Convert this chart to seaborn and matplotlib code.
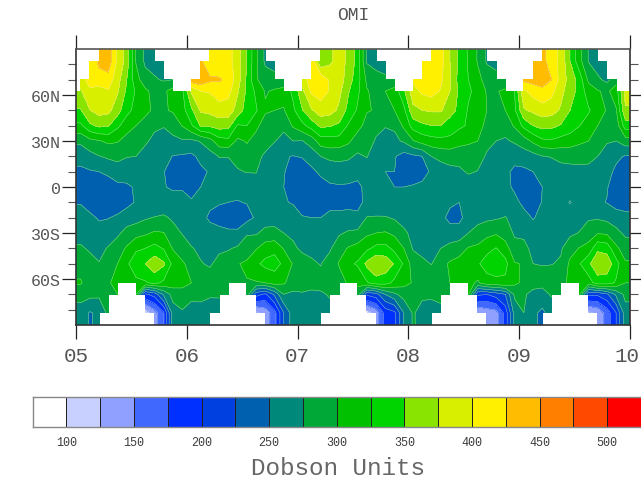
import matplotlib
matplotlib.use("Agg")
import matplotlib.pyplot as plt
from matplotlib.transforms import ScaledTranslation
import numpy as np
import seaborn as sns

N = float("nan")

# latitude rows of each monthly column, north to south
lats = [82, 70, 62.5, 50, 40, 30, 20, 10, 0, -10, -20, -30, -40, -50, -62.5, -70, -82]

ozone_05 = [
    [N, 385, 372, 348, 320, 280, 259, 245, 240, 249, 256, 266, 278, 292, 302, 286, 262],
    [400, 412, 395, 374, 345, 293, 266, 248, 235, 242, 254, 263, 272, 283, 290, 282, 248],
    [432, 412, 390, 385, 355, 298, 274, 250, 232, 234, 248, 257, 268, 276, 283, 280, 255],
    [440, 415, 398, 382, 352, 305, 279, 256, 236, 233, 249, 262, 277, 292, 299, 288, 282],
    [395, 385, 378, 360, 330, 302, 279, 268, 242, 236, 254, 270, 289, 300, 303, 300, N],
    [365, 350, 345, 332, 312, 290, 276, 262, 246, 243, 262, 284, 303, 320, 315, N, N],
    [298, 310, 322, 318, 300, 286, 275, 262, 253, 252, 265, 291, 320, 343, 318, 300, N],
    [270, 285, 305, 306, 291, 279, 265, 258, 257, 256, 272, 296, 325, 350, 322, 195, 110],
    [265, 278, 292, 296, 280, 268, 261, 256, 255, 258, 276, 303, 334, 366, 332, 210, 138],
    [260, 272, 295, 297, 276, 268, 258, 251, 252, 262, 278, 301, 323, 354, 320, 255, 172],
    [N, 275, 310, 303, 283, 270, 249, 236, 245, 265, 272, 282, 298, 318, 312, 285, 262],
    [N, N, 320, 315, 301, 272, 247, 233, 246, 264, 268, 274, 285, 304, 308, 290, 272],
]
ozone_06 = [
    [N, 440, 378, 345, 322, 270, 245, 236, 243, 252, 262, 268, 276, 290, 300, 283, 262],
    [430, 445, 400, 378, 352, 277, 256, 245, 250, 256, 259, 266, 272, 276, 291, 280, 268],
    [405, 430, 402, 382, 354, 290, 265, 252, 256, 256, 245, 262, 270, 273, 283, 278, 262],
    [405, 428, 412, 390, 360, 315, 276, 260, 252, 252, 240, 258, 272, 280, 289, 280, 255],
    [410, 418, 408, 388, 358, 318, 276, 262, 254, 250, 233, 256, 273, 287, 290, 275, N],
    [385, 388, 378, 365, 322, 295, 282, 273, 256, 249, 232, 256, 278, 299, 293, N, N],
    [350, 345, 345, 338, 325, 302, 290, 276, 262, 251, 242, 272, 290, 303, 299, 290, N],
    [305, 303, 320, 328, 305, 292, 280, 276, 265, 258, 253, 272, 298, 320, 298, 210, 120],
    [270, 288, 298, 303, 290, 282, 272, 263, 258, 257, 262, 283, 312, 332, 300, 195, 135],
    [262, 285, 303, 300, 285, 276, 262, 252, 252, 258, 265, 282, 318, 335, 310, 230, 165],
    [N, 280, 310, 298, 280, 268, 252, 252, 250, 252, 260, 275, 298, 320, 303, 275, 225],
    [N, N, 330, 320, 303, 275, 249, 238, 238, 248, 262, 272, 278, 298, 288, 270, 263],
]
ozone_07 = [
    [N, 385, 368, 348, 318, 274, 252, 234, 232, 236, 252, 266, 272, 282, 288, 272, 262],
    [420, 415, 405, 372, 336, 285, 262, 244, 228, 238, 250, 262, 270, 278, 283, 270, 262],
    [352, 420, 412, 388, 355, 313, 275, 255, 240, 242, 250, 260, 268, 274, 282, 272, 262],
    [370, 395, 398, 385, 352, 315, 282, 256, 248, 244, 255, 263, 272, 285, 287, 277, 268],
    [385, 388, 382, 370, 345, 315, 280, 266, 247, 243, 256, 272, 290, 302, 290, 275, N],
    [370, 362, 352, 342, 322, 305, 278, 265, 246, 243, 258, 278, 302, 320, 303, N, N],
    [340, 335, 330, 322, 310, 285, 272, 257, 245, 241, 257, 280, 310, 328, 305, 290, N],
    [272, 295, 302, 302, 290, 283, 276, 266, 256, 258, 276, 295, 320, 356, 322, 205, 112],
    [265, 285, 292, 298, 280, 273, 262, 255, 254, 258, 277, 300, 332, 372, 338, 215, 135],
    [262, 280, 300, 298, 276, 268, 257, 250, 252, 256, 277, 302, 334, 365, 335, 250, 185],
    [N, 280, 310, 300, 278, 270, 252, 250, 250, 255, 272, 295, 318, 348, 318, 270, 195],
    [N, N, 345, 318, 305, 278, 240, 232, 250, 258, 265, 280, 300, 322, 308, 285, 250],
]
ozone_08 = [
    [N, 405, 390, 368, 335, 298, 245, 238, 252, 258, 264, 268, 273, 288, 298, 290, 278],
    [425, 420, 405, 375, 345, 310, 250, 240, 256, 260, 264, 266, 268, 280, 285, 280, 265],
    [420, 412, 410, 378, 350, 315, 275, 254, 258, 260, 263, 266, 270, 274, 290, 280, 262],
    [410, 405, 398, 378, 350, 318, 282, 262, 258, 258, 255, 265, 275, 292, 298, 282, 268],
    [375, 378, 375, 358, 340, 317, 285, 268, 259, 253, 245, 258, 284, 303, 300, 290, N],
    [345, 340, 345, 345, 330, 308, 285, 270, 260, 250, 243, 262, 288, 310, 305, N, N],
    [322, 325, 330, 322, 322, 303, 290, 278, 260, 256, 262, 275, 302, 318, 308, 300, N],
    [298, 308, 315, 325, 318, 300, 285, 274, 262, 259, 266, 285, 305, 322, 296, 205, 125],
    [272, 290, 298, 300, 288, 281, 272, 263, 260, 258, 270, 292, 318, 335, 315, 200, 135],
    [265, 285, 298, 295, 285, 275, 266, 258, 258, 262, 272, 297, 326, 340, 318, 212, 140],
    [N, 280, 305, 300, 285, 272, 260, 255, 258, 264, 276, 287, 312, 332, 320, 225, 185],
    [N, N, 325, 320, 303, 278, 258, 245, 245, 258, 268, 272, 282, 302, 305, 280, 260],
]
ozone_09 = [
    [N, 430, 395, 372, 332, 288, 262, 245, 244, 243, 260, 270, 282, 298, 295, 278, 275],
    [440, 435, 410, 380, 350, 305, 266, 250, 238, 232, 248, 262, 268, 275, 284, 268, 255],
    [435, 435, 420, 388, 358, 320, 274, 262, 250, 252, 258, 265, 270, 274, 283, 265, 245],
    [410, 425, 408, 385, 356, 322, 276, 266, 255, 255, 258, 263, 268, 274, 290, 278, 260],
    [395, 390, 382, 372, 348, 316, 280, 268, 256, 256, 258, 265, 272, 278, 297, 292, N],
    [350, 365, 362, 350, 338, 312, 283, 267, 258, 249, 258, 270, 290, 305, 302, N, N],
    [310, 340, 342, 338, 326, 305, 283, 268, 258, 256, 264, 276, 301, 323, 308, 305, N],
    [274, 295, 312, 328, 314, 300, 282, 268, 258, 256, 272, 288, 308, 345, 312, 205, 120],
    [262, 280, 302, 312, 300, 285, 275, 268, 258, 254, 272, 298, 345, 368, 338, 205, 130],
    [255, 268, 295, 298, 287, 277, 265, 258, 252, 249, 268, 296, 340, 366, 336, 220, 160],
    [N, 290, 312, 298, 286, 275, 255, 245, 235, 240, 262, 282, 305, 335, 322, 255, 200],
    [N, N, 385, 372, 338, 288, 248, 238, 230, 238, 258, 270, 288, 303, 300, 282, 265],
]

year_labels = ["05", "06", "07", "08", "09", "10"]
lat_ticks = [60, 30, 0, -30, -60]
lat_labels = ["60N", "30N", "0", "30S", "60S"]
levels = [100, 125, 150, 175, 200, 225, 250, 275, 300, 325, 350, 375, 400, 425, 450, 475, 500]
level_colors = ["#ffffff", "#c8d0ff", "#90a0ff", "#4068ff", "#0030ff", "#0040e0", "#0060b0",
                "#00897b", "#00a838", "#00c000", "#00d400", "#88e400", "#d8f000", "#fff000",
                "#ffbc00", "#ff8000", "#ff4800", "#ff0000"]

# months of the year (0 = first) with no retrieval, per latitude row
no_data = {90: [9, 10, 11, 0, 1], 82: [10, 11, 0], 70: [11],
           -70: [5], -82: [4, 5, 6], -90: [3, 4, 5, 6, 7]}

GRAY = "#555555"
plt.rcParams["contour.corner_mask"] = False
sns.set_style("ticks")
plt.rcParams["font.family"] = ["Liberation Mono", "DejaVu Sans Mono"]

# build the grid, one extra column/row past each edge so the fill reaches the frame
grid = np.array(ozone_05 + ozone_06 + ozone_07 + ozone_08 + ozone_09, dtype=float).T
grid = np.hstack([grid[:, :1], grid, grid[:, -1:]])
grid = np.vstack([grid[:1], grid, grid[-1:]])
lat_axis = np.array([90] + lats + [-90], dtype=float)
month_axis = np.arange(-1, 61) + 0.5
for lat, months in no_data.items():
    row = np.where(lat_axis == lat)[0][0]
    col_months = np.arange(-1, 61) % 12
    grid[row, np.isin(col_months, months)] = np.nan
grid = np.ma.masked_invalid(grid)

fig = plt.figure(figsize=(6.41, 4.85), dpi=100)
W, H = 641.0, 485.0
ax = fig.add_axes([76 / W, 1 - 326 / H, 554 / W, 276 / H])

ax.contourf(month_axis, lat_axis, grid, levels=levels, colors=level_colors, extend="both")
ax.contour(month_axis, lat_axis, grid, levels=levels, colors="#d8e8d8", linewidths=0.35, alpha=0.7)

ax.set_xlim(0, 60)
ax.set_ylim(-90, 90)
ax.set_xticks(np.arange(0, 61, 12))
ax.set_xticklabels(year_labels, fontsize=15, color=GRAY)
ax.set_yticks(lat_ticks)
ax.set_yticklabels(lat_labels, fontsize=12, color=GRAY)
ax.set_yticks(np.arange(-80, 81, 10), minor=True)
ax.tick_params(axis="x", which="major", top=True, direction="out", length=10, width=0.9, color="#222222", pad=5)
ax.tick_params(axis="y", which="major", right=True, direction="out", length=10, width=0.9, color="#222222", pad=1)
ax.tick_params(axis="y", which="minor", right=True, direction="out", length=5.8, width=0.8, color="#555555")
for side in ax.spines:
    ax.spines[side].set_visible(True)
    ax.spines[side].set_linewidth(1.2)
    ax.spines[side].set_color("#333333")
ax.spines["top"].set_color("#555555")

# keep the last year label inside the canvas
last_label = ax.get_xticklabels()[-1]
last_label.set_transform(last_label.get_transform() + ScaledTranslation(-0.03, 0, fig.dpi_scale_trans))

fig.text(353 / W, 1 - 15 / H, "OMI", ha="center", va="center", fontsize=13, color=GRAY)

# label bar
cax = fig.add_axes([32.5 / W, 1 - 427.5 / H, 608.5 / W, 30 / H])
bar_values = np.arange(len(level_colors))[None, :]
sns.heatmap(bar_values, cmap=level_colors, cbar=False, linewidths=0.6, linecolor="#222222",
            xticklabels=False, yticklabels=False, ax=cax)
for side in ["left", "top", "bottom"]:
    cax.spines[side].set_visible(True)
    cax.spines[side].set_color("#888888")
    cax.spines[side].set_linewidth(1.0)
cax.set_xticks(np.arange(1, 18, 2))
cax.set_xticklabels(levels[::2], fontsize=8.5, color="#3c3c3c")
cax.tick_params(axis="x", length=0, pad=7)

fig.text(338 / W, 1 - 469 / H, "Dobson Units", ha="center", va="center", fontsize=17.5, color="#666666")

fig.savefig("out.png", dpi=100)
plt.close(fig)
